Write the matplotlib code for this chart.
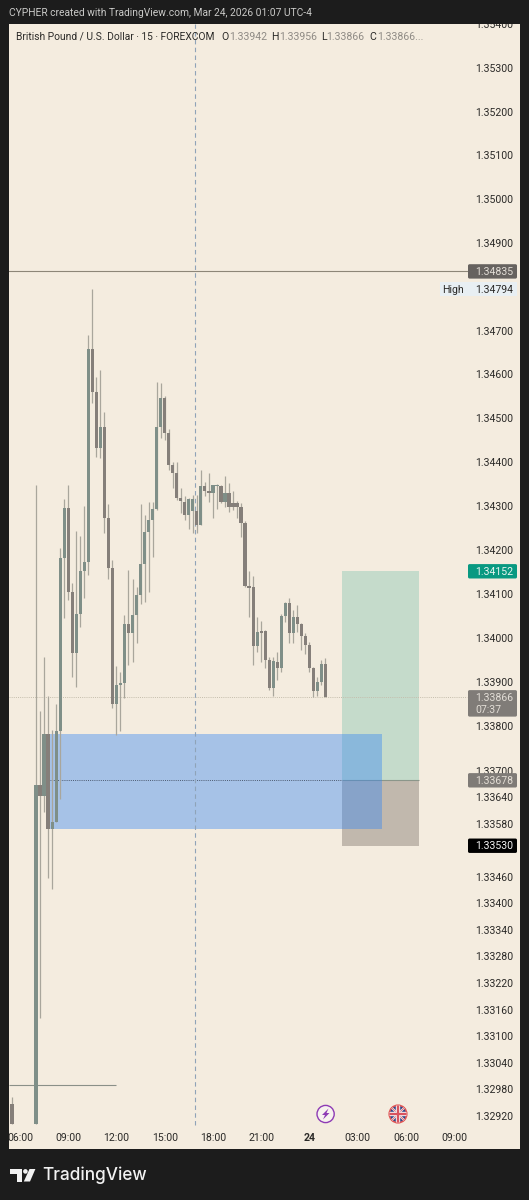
import numpy as np
import matplotlib
matplotlib.use("Agg")
from matplotlib import pyplot as plt
from matplotlib import transforms
from matplotlib.patches import Circle, FancyBboxPatch, Polygon, Rectangle

# 15 minute bars, the first sits alone at 05:30, the rest start at 07:00
opens = [1.32948, 1.32902, 1.33668, 1.33643, 1.33784, 1.33568, 1.33584, 1.33789, 1.34182, 1.34295,
         1.34105, 1.33966, 1.34055, 1.34152, 1.34173, 1.34659, 1.34559, 1.34432, 1.34480, 1.34273,
         1.34159, 1.33850, 1.33895, 1.33898, 1.34032, 1.34011, 1.34052, 1.34098, 1.34168, 1.34241,
         1.34268, 1.34293, 1.34480, 1.34546, 1.34466, 1.34393, 1.34375, 1.34318, 1.34309, 1.34280,
         1.34289, 1.34289, 1.34257, 1.34345, 1.34334, 1.34330, 1.34345, 1.34345, 1.34309, 1.34330,
         1.34307, 1.34307, 1.34298, 1.34261, 1.34118, 1.34116, 1.33982, 1.34016, 1.34016, 1.33950,
         1.33886, 1.33945, 1.33932, 1.34050, 1.34080, 1.34011, 1.34048, 1.34032, 1.34005, 1.33984,
         1.33932, 1.33880, 1.33900, 1.33942]
highs = [1.32962, 1.34348, 1.33836, 1.33957, 1.33870, 1.33791, 1.33850, 1.34205, 1.34316, 1.34348,
         1.34125, 1.34243, 1.34232, 1.34300, 1.34689, 1.34794, 1.34593, 1.34611, 1.34514, 1.34305,
         1.34177, 1.33936, 1.33923, 1.34052, 1.34155, 1.34134, 1.34116, 1.34305, 1.34280, 1.34309,
         1.34309, 1.34582, 1.34580, 1.34550, 1.34475, 1.34400, 1.34400, 1.34341, 1.34323, 1.34318,
         1.34325, 1.34325, 1.34382, 1.34355, 1.34375, 1.34348, 1.34350, 1.34348, 1.34368, 1.34352,
         1.34334, 1.34311, 1.34307, 1.34266, 1.34152, 1.34141, 1.34048, 1.34039, 1.34018, 1.33957,
         1.33957, 1.33968, 1.34055, 1.34082, 1.34091, 1.34064, 1.34075, 1.34034, 1.34011, 1.33991,
         1.33934, 1.33911, 1.33950, 1.33956]
lows = [1.32902, 1.32902, 1.33141, 1.33607, 1.33457, 1.33432, 1.33584, 1.33636, 1.34045, 1.34086,
        1.33911, 1.33889, 1.34025, 1.34091, 1.34143, 1.34536, 1.34411, 1.34409, 1.34239, 1.34134,
        1.33841, 1.33780, 1.33789, 1.33864, 1.33939, 1.33945, 1.33989, 1.34077, 1.34082, 1.34105,
        1.34184, 1.34291, 1.34455, 1.34450, 1.34382, 1.34341, 1.34314, 1.34284, 1.34268, 1.34248,
        1.34239, 1.34239, 1.34257, 1.34323, 1.34309, 1.34273, 1.34293, 1.34307, 1.34298, 1.34286,
        1.34291, 1.34273, 1.34230, 1.34116, 1.34048, 1.33939, 1.33968, 1.33945, 1.33932, 1.33882,
        1.33868, 1.33905, 1.33923, 1.34036, 1.33989, 1.33989, 1.34014, 1.33973, 1.33964, 1.33923,
        1.33866, 1.33868, 1.33895, 1.33866]
closes = [1.32902, 1.33668, 1.33643, 1.33784, 1.33568, 1.33584, 1.33789, 1.34182, 1.34295, 1.34105,
          1.33966, 1.34055, 1.34152, 1.34173, 1.34659, 1.34559, 1.34432, 1.34480, 1.34273, 1.34159,
          1.33850, 1.33895, 1.33898, 1.34032, 1.34011, 1.34052, 1.34098, 1.34168, 1.34241, 1.34268,
          1.34293, 1.34480, 1.34546, 1.34466, 1.34393, 1.34375, 1.34318, 1.34311, 1.34280, 1.34316,
          1.34316, 1.34257, 1.34345, 1.34334, 1.34330, 1.34348, 1.34348, 1.34309, 1.34330, 1.34298,
          1.34298, 1.34298, 1.34261, 1.34118, 1.34114, 1.33982, 1.34014, 1.34012, 1.33950, 1.33886,
          1.33948, 1.33932, 1.34050, 1.34080, 1.34011, 1.34048, 1.34032, 1.34005, 1.33984, 1.33932,
          1.33880, 1.33900, 1.33941, 1.33866]
bar_hours = [5.5] + [7 + i * 0.25 for i in range(len(opens) - 1)]

price_ticks = [1.354, 1.353, 1.352, 1.351, 1.350, 1.349, 1.347, 1.346, 1.345, 1.344, 1.343, 1.342,
               1.341, 1.340, 1.339, 1.338, 1.337, 1.3364, 1.3358, 1.3346, 1.3340, 1.3334,
               1.3328, 1.3322, 1.3316, 1.3310, 1.3304, 1.3298, 1.3292]
time_ticks = [6, 9, 12, 15, 18, 21, 24, 27, 30, 33]
time_labels = ["06:00", "09:00", "12:00", "15:00", "18:00", "21:00", "24", "03:00", "06:00", "09:00"]

target_price = 1.34152
entry_price = 1.33678
stop_price = 1.33530
last_price = 1.33866
level_price = 1.34835
high_price = 1.34794
old_level = 1.32991
zone_top = 1.33784
zone_bottom = 1.33568
marker_hour = 16.86

BG = "#f4ecdf"
DARK = "#1c1c1c"
TEXT = "#2b2a28"
UP = "#7f8f88"
DOWN = "#857f7a"
WICK = "#a9a69c"

plt.rcParams["font.family"] = ["Roboto", "DejaVu Sans"]

fig = plt.figure(figsize=(5.29, 12), dpi=100, facecolor=DARK)
left, right, top, bottom = 8.8, 520.0, 23.6, 1149.0
ax = fig.add_axes([left / 529, 1 - bottom / 1200, (right - left) / 529, (bottom - top) / 1200])
ax.set_facecolor(BG)
ax.set_yscale("log")
ax.set_xlim(5.306, 37.097)
ax.set_ylim(1.32846, 1.35402)
ax.minorticks_off()
ax.set_xticks([])
ax.set_yticks([])
for spine in ax.spines.values():
    spine.set_visible(False)

# position boxes
ax.fill_between([26.0, 30.82], entry_price, target_price, color="#c5dbcb", lw=0, zorder=1)
ax.fill_between([26.0, 30.82], stop_price, entry_price, color="#c1b8ad", lw=0, zorder=1)
ax.hlines(entry_price, 26.0, 30.82, color="#8b968a", lw=0.8, zorder=1.2)
ax.fill_between([7.81, 28.51], zone_bottom, zone_top, color=(50 / 255, 133 / 255, 245 / 255), alpha=0.4, lw=0, zorder=1.5)

# level lines
ax.axhline(level_price, xmax=(467 - left) / (right - left), color="#8d8678", lw=0.8, zorder=1.6)
ax.hlines(old_level, 5.306, 12, color="#8a9088", lw=0.8, zorder=1.6)
ax.hlines(entry_price, 7.81, 26.0, color="#4c5a70", lw=0.7, linestyles=(0, (1, 1.2)), zorder=1.6)
ax.axhline(last_price, xmax=(467 - left) / (right - left), color="#c4bdac", lw=0.7,
           linestyle=(0, (1, 1.2)), zorder=1.6)
ax.plot([marker_hour, marker_hour], [1.3290, 1.35402], color="#8fa3b8", lw=0.8, linestyle=(0, (4, 3)), zorder=1.7)

# candles
hours = np.array(bar_hours)
o = np.array(opens)
c = np.array(closes)
up = c >= o
ax.vlines(hours, lows, highs, color=WICK, lw=0.9, zorder=2)
ax.bar(hours[up], (c - o)[up], bottom=o[up], width=0.2, color=UP, lw=0, zorder=3)
ax.bar(hours[~up], (o - c)[~up], bottom=c[~up], width=0.2, color=DOWN, lw=0, zorder=3)


def axis_x(px):
    return (px - left) / (right - left)


# labels sit one pixel lower than plain centring gives
nudge = transforms.ScaledTranslation(0, -1 / 100, fig.dpi_scale_trans)
price_tf = transforms.blended_transform_factory(ax.transAxes, ax.transData)
time_tf = transforms.blended_transform_factory(ax.transData, ax.transAxes)

for p in price_ticks:
    ax.text(axis_x(513), p, "%.5f" % p, transform=price_tf + nudge, ha="right", va="center", fontsize=7.6,
            color=TEXT, clip_on=True, zorder=4)

time_y = (bottom - 1137) / (bottom - top)
for h, lab in zip(time_ticks, time_labels):
    ax.text(h, time_y, lab, transform=time_tf + nudge, ha="center", va="center", fontsize=7.6, color=TEXT,
            fontweight="bold" if lab == "24" else "normal", clip_on=True, zorder=4)

ax.add_patch(Rectangle((axis_x(440), high_price - 0.00016), axis_x(517) - axis_x(440), 0.00032,
                       transform=price_tf, fc="#e8eff3", ec="none", zorder=5))
ax.text(axis_x(442), high_price, "High", transform=price_tf + nudge, ha="left", va="center", fontsize=7.6, color=TEXT, zorder=6)
ax.text(axis_x(513), high_price, "%.5f" % high_price, transform=price_tf + nudge, ha="right", va="center",
        fontsize=7.6, color=TEXT, zorder=6)

# everything around the chart, in image pixels
over = fig.add_axes([0, 0, 1, 1])
over.set_xlim(0, 529)
over.set_ylim(1200, 0)
over.axis("off")
over.patch.set_alpha(0)


def price_tag(price, label, face, color, extra=None):
    # y of the price in image pixels, the tag sits on it
    y = 1200 - ax.transData.transform((10, price))[1]
    h = 14.4
    y0 = y - h / 2
    box_h = h if extra is None else 26.5
    over.add_patch(FancyBboxPatch((468.8, y0 + 0.8), 47.4, box_h - 1.6, boxstyle="round,pad=0.8,rounding_size=1.6",
                                  fc=face, ec="none", zorder=6))
    over.text(475, y + 0.6, label, ha="left", va="center", fontsize=7.6, color=color, zorder=7)
    if extra is not None:
        over.text(475, y + 12.9, extra, ha="left", va="center", fontsize=7.6, color=color, zorder=7)


price_tag(level_price, "%.5f" % level_price, "#66625f", "#e2ddd6")
price_tag(target_price, "%.5f" % target_price, "#089981", "#e8f5f0")
price_tag(last_price, "%.5f" % last_price, "#807c78", "#e2ddd6", extra="07:37")
price_tag(entry_price, "%.5f" % entry_price, "#7f7b77", "#e4ded5")
price_tag(stop_price, "%.5f" % stop_price, "#000000", "#f2f2f2")

over.text(9, 13.5, "CYPHER created with TradingView.com, Mar 24, 2026 01:07 UTC-4", ha="left", va="center",
          fontsize=7.4, color="#c9c9c7")

over.text(15.5, 37, "British Pound / U.S. Dollar · 15 · FOREXCOM", ha="left", va="center", fontsize=7.37, color=TEXT)
for x, letter in zip([221, 271, 321, 369.4], ["O", "H", "L", "C"]):
    over.text(x, 37, letter, ha="left", va="center", fontsize=7.6, color=TEXT)
legend_vals = ["%.5f" % opens[-1], "%.5f" % highs[-1], "%.5f" % lows[-1], "%.5f..." % closes[-1]]
for x, val in zip([228.7, 278.7, 326.6, 376.9], legend_vals):
    over.text(x, 37, val, ha="left", va="center", fontsize=7.6, color="#8f8b85")

# session icons
over.add_patch(Circle((325.6, 1114), 8.6, fc="#f7f2ee", ec="#8e3bb5", lw=1.0))
over.add_patch(Polygon([(328.5, 1108.5), (322, 1115), (325, 1115), (323, 1119.5), (329.5, 1113), (326.5, 1113)],
                       fc="#8e3bb5", ec="none"))
clip = Circle((398, 1114), 8.6, transform=over.transData)
over.add_patch(Circle((398, 1114), 8.6, fc="#2f4486", ec="none"))
for dx in [-1, 1]:
    line, = over.plot([398 - 9, 398 + 9], [1114 - 9 * dx, 1114 + 9 * dx], color="#f1e9ea", lw=1.6)
    line.set_clip_path(clip)
    line, = over.plot([398 - 9, 398 + 9], [1114 - 9 * dx, 1114 + 9 * dx], color="#d9535e", lw=0.5)
    line.set_clip_path(clip)
for xs, ys, lw, col in [([389, 407], [1114, 1114], 3.2, "#f1e9ea"), ([398, 398], [1105, 1123], 3.2, "#f1e9ea"),
                        ([389, 407], [1114, 1114], 1.6, "#d9535e"), ([398, 398], [1105, 1123], 1.6, "#d9535e")]:
    line, = over.plot(xs, ys, color=col, lw=lw, solid_capstyle="butt")
    line.set_clip_path(clip)
over.add_patch(Circle((398, 1114), 8.8, fc="none", ec="#e0504f", lw=1.1))

# footer logo
over.add_patch(Polygon([(10, 1169), (21.5, 1169), (21.5, 1181.5), (16.5, 1181.5), (16.5, 1173.7), (10, 1173.7)],
                       fc="#f2f2f2", ec="none"))
over.add_patch(Circle((25.4, 1171.4), 2.3, fc="#f2f2f2", ec="none"))
over.add_patch(Polygon([(29.5, 1169), (35.4, 1169), (30, 1181.5), (23.8, 1181.5)], fc="#f2f2f2", ec="none"))
over.text(42, 1175, "TradingView", ha="left", va="center", fontsize=12.4, color="#f2f2f2",
          family=["Inter", "DejaVu Sans"], fontweight="medium")

fig.savefig("out.png", dpi=100, facecolor=DARK)
